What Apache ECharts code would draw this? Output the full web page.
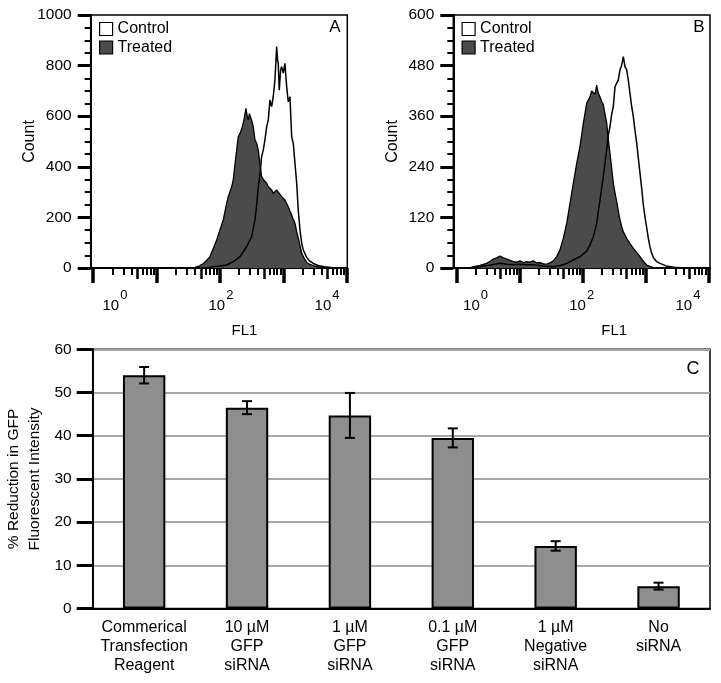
<!DOCTYPE html>
<html><head><meta charset="utf-8">
<script src="https://cdn.jsdelivr.net/npm/echarts@6/dist/echarts.min.js"></script>
<style>html,body{margin:0;padding:0;background:#fff}#c{width:721px;height:683px}</style>
</head><body><div id="c"></div>
<script>
// ---------- Panel A (log10 FL1, count) ----------
const aTreatedLog = [1.0,1.55,1.605,1.66,1.737,1.79,1.842,1.9,1.948,2.0,2.052,2.106,2.131,2.158,2.184,2.21,2.237,2.264,2.289,2.316,2.342,2.368,2.39,2.41,2.43,2.447,2.465,2.485,2.505,2.526,2.553,2.579,2.605,2.632,2.658,2.684,2.71,2.737,2.763,2.789,2.816,2.842,2.868,2.895,2.921,2.947,2.974,3.0,3.026,3.053,3.078,3.105,3.132,3.158,3.184,3.21,3.237,3.263,3.29,3.33,3.369,3.42,3.473,3.578,3.7,3.85,4.01];
const aTreatedCount = [0,0,2,6,18,30,45,80,111,150,190,256,282,289,320,348,410,466,519,532,548,572,600,631,600,585,610,605,580,558,506,493,466,410,361,350,354,335,321,328,308,295,302,308,300,295,282,275,269,255,242,225,209,192,177,145,118,88,58,38,22,14,9,3,1,0,0];
const aControlLog = [1.0,1.8,1.894,2.0,2.106,2.21,2.316,2.421,2.5,2.553,2.58,2.605,2.632,2.658,2.684,2.71,2.737,2.763,2.789,2.816,2.841,2.868,2.895,2.91,2.92,2.936,2.958,2.974,3.0,3.026,3.04,3.053,3.078,3.105,3.132,3.157,3.184,3.211,3.236,3.263,3.29,3.315,3.369,3.42,3.473,3.55,3.65,3.78,3.9,4.01];
const aControlCount = [0,0,5,8,12,25,45,84,124,190,250,321,370,440,466,506,558,585,664,638,677,743,875,820,809,703,783,796,770,809,760,717,657,677,519,493,414,335,229,150,98,71,42,27,18,10,5,1,0,0];
// ---------- Panel B ----------
const bTreatedLog = [0.2,0.264,0.37,0.477,0.53,0.582,0.635,0.688,0.74,0.795,0.85,0.9,0.95,1.006,1.06,1.113,1.165,1.218,1.27,1.324,1.38,1.431,1.48,1.536,1.59,1.642,1.695,1.749,1.801,1.854,1.908,1.96,2.013,2.067,2.119,2.145,2.172,2.2,2.226,2.25,2.278,2.305,2.331,2.358,2.385,2.41,2.437,2.464,2.49,2.517,2.544,2.57,2.596,2.623,2.649,2.676,2.703,2.755,2.808,2.86,2.914,2.967,3.021,3.126,3.25];
const bTreatedCount = [0,3,6,11,16,21,24,28,24,21,18,15,14,17,13,15,14,17,12,13,10,9,12,17,27,43,70,106,153,201,248,288,343,391,406,420,422,412,434,415,406,395,387,365,343,305,272,236,201,178,157,135,114,98,86,78,70,58,47,37,27,16,7,1,0];
const bControlLog = [0.2,0.35,0.5,0.6,0.7,0.8,0.9,1.0,1.1,1.2,1.3,1.4,1.536,1.65,1.749,1.854,1.96,2.067,2.12,2.172,2.2,2.226,2.252,2.278,2.305,2.331,2.358,2.385,2.41,2.437,2.464,2.49,2.517,2.544,2.569,2.596,2.623,2.649,2.676,2.703,2.728,2.755,2.78,2.808,2.835,2.862,2.888,2.914,2.94,2.967,2.994,3.021,3.047,3.073,3.1,3.126,3.18,3.232,3.33,3.45,3.6];
const bControlCount = [0,3,6,9,11,9,8,9,8,8,6,4,3,6,11,19,27,40,55,74,90,106,135,161,190,217,250,280,315,335,365,383,430,430,446,470,481,501,477,470,446,414,385,359,325,296,260,225,190,150,120,95,70,50,35,25,15,11,5,2,0];
// ---------- Panel C ----------
const cCategories = ['Commerical\nTransfection\nReagent','10 µM\nGFP\nsiRNA','1 µM\nGFP\nsiRNA','0.1 µM\nGFP\nsiRNA','1 µM\nNegative\nsiRNA','No\nsiRNA'];
const cValues = [54.0,46.5,44.7,39.5,14.5,5.2];
const cErrors = [1.9,1.5,5.2,2.2,1.1,0.8];
// ---------- tick labels ----------
const histMajorTicks = [0,1,2,3,4];
const histLabelTicks = [0,2,4];
const histMinorMult = [2,3,4,6,7,8,9];

const FONT = "'Liberation Sans', Arial, Helvetica, sans-serif";
const zip = (xs, ys) => xs.map((x, i) => [x, ys[i]]);
const minorTicks = [0,1,2,3].flatMap(d => histMinorMult.map(m => d + Math.log10(m)));
const midTicks = [0,1,2,3].map(d => d + Math.log10(5));

function histXAxes(g, min, max, lmin, lmax, namePad) {
  const base = {type:'value', gridIndex:g, min:min, max:max, position:'bottom', splitLine:{show:false}, axisLabel:{show:false}};
  return [
    Object.assign({}, base, {axisLine:{show:true,onZero:false,lineStyle:{color:'#000',width:2}},
      axisTick:{show:true,customValues:histMajorTicks,length:15,lineStyle:{color:'#000',width:3.5}}}),
    Object.assign({}, base, {axisLine:{show:false,onZero:false},
      axisTick:{show:true,customValues:minorTicks,length:7,lineStyle:{color:'#000',width:2}}}),
    Object.assign({}, base, {axisLine:{show:false,onZero:false},
      axisTick:{show:true,customValues:midTicks,length:11,lineStyle:{color:'#000',width:2.5}}}),
    {type:'value', gridIndex:g, min:lmin, max:lmax, position:'bottom', splitLine:{show:false},
      axisLine:{show:false,onZero:false}, axisTick:{show:false},
      axisLabel:{show:true, customValues:histLabelTicks, margin:30,
        formatter: v => '{b|10}{s|' + Math.round(v) + '}',
        rich:{b:{fontSize:15,lineHeight:15,verticalAlign:'bottom',fontFamily:FONT,color:'#000'},
              s:{fontSize:13,lineHeight:13,padding:[0,0,11.5,1],verticalAlign:'bottom',fontFamily:FONT,color:'#000'}}},
      name:'FL1', nameLocation:'middle', nameGap:55, nameMoveOverlap:false,
      nameTextStyle:{fontSize:15,fontFamily:FONT,color:'#000',padding:[0,0,0,namePad]}}
  ];
}
function histYAxis(g, max, interval) {
  return {type:'value', gridIndex:g, min:0, max:max, interval:interval,
    axisLine:{show:true,onZero:false,lineStyle:{color:'#000',width:2}},
    axisTick:{show:true,length:13,lineStyle:{color:'#000',width:3}},
    minorTick:{show:true,splitNumber:4,length:6,lineStyle:{color:'#000',width:2}},
    axisLabel:{color:'#000',fontSize:15.5,fontFamily:FONT,margin:19,formatter: v => String(v)},
    splitLine:{show:false},
    name:'Count', nameLocation:'middle', nameGap:53, nameMoveOverlap:false,
    nameTextStyle:{fontSize:16,fontFamily:FONT,color:'#000'}};
}
function histSeries(xi, yi, tLog, tCnt, cLog, cCnt) {
  return [
    {name:'Treated', type:'line', xAxisIndex:xi, yAxisIndex:yi, data:zip(tLog,tCnt), showSymbol:false, symbol:'none',
      itemStyle:{color:'#4b4b4b'}, lineStyle:{color:'#000',width:1.3}, areaStyle:{color:'#4b4b4b',opacity:1}, z:2, silent:true},
    {name:'Control', type:'line', xAxisIndex:xi, yAxisIndex:yi, data:zip(cLog,cCnt), showSymbol:false, symbol:'none',
      itemStyle:{color:'#fff'}, lineStyle:{color:'#000',width:1.5}, z:3, silent:true}
  ];
}
function legendFor(left) {
  return {left:left, top:21, orient:'vertical', padding:0, itemGap:2.5, itemWidth:13, itemHeight:13, icon:'rect',
    selectedMode:false, textStyle:{fontSize:16,color:'#000',fontFamily:FONT,lineHeight:16},
    data:[{name:'Control',itemStyle:{color:'#fff',borderColor:'#000',borderWidth:1.2}},
          {name:'Treated',itemStyle:{color:'#4b4b4b',borderColor:'#000',borderWidth:1.2}}]};
}

const gridStyle = {show:true, borderColor:'#000', borderWidth:1.5, backgroundColor:'transparent', containLabel:false, outerBoundsMode:'none'};

const option = {
  animation:false,
  backgroundColor:'#fff',
  textStyle:{fontFamily:FONT},
  grid:[
    Object.assign({left:90.7, top:15, width:256.6, height:253}, gridStyle),
    Object.assign({left:453.3, top:15, width:256.7, height:253}, gridStyle),
    Object.assign({left:92.7, top:349.3, width:617.3, height:259.3}, gridStyle)
  ],
  legend:[legendFor(99), legendFor(461.5)],
  xAxis: [].concat(
    histXAxes(0, -0.04, 4.01, -0.458, 4.383, 51),
    histXAxes(1, -0.054, 4.027, -0.418, 4.416, 65),
    [{type:'category', gridIndex:2, data:cCategories,
      axisLine:{show:true,onZero:false,lineStyle:{color:'#000',width:2}}, axisTick:{show:false},
      axisLabel:{interval:0,color:'#000',fontSize:16,lineHeight:19.3,margin:9,fontFamily:FONT}, splitLine:{show:false}}]
  ),
  yAxis:[
    histYAxis(0, 1000, 200),
    histYAxis(1, 600, 120),
    {type:'value', gridIndex:2, min:0, max:60, interval:10,
      axisLine:{show:true,onZero:false,lineStyle:{color:'#000',width:2}},
      axisTick:{show:true,length:16,lineStyle:{color:'#000',width:3}},
      axisLabel:{color:'#000',fontSize:15.5,fontFamily:FONT,margin:21},
      splitLine:{show:true,lineStyle:{color:'#a8a8a8',width:2}},
      name:'% Reduction in GFP\nFluorescent Intensity', nameLocation:'middle', nameGap:47, nameMoveOverlap:false,
      nameTextStyle:{fontSize:15.5,lineHeight:21,fontFamily:FONT,color:'#000',align:'center'}}
  ],
  series: [].concat(
    histSeries(0, 0, aTreatedLog, aTreatedCount, aControlLog, aControlCount),
    histSeries(4, 1, bTreatedLog, bTreatedCount, bControlLog, bControlCount),
    [{type:'bar', xAxisIndex:8, yAxisIndex:2, data:cValues, barWidth:42.4, silent:true,
      itemStyle:{color:'#8e8e8e',borderColor:'#000',borderWidth:2}, z:2},
     {type:'custom', xAxisIndex:8, yAxisIndex:2, silent:true, z:4,
      data: cValues.map((v,i)=>[i, v - cErrors[i], v + cErrors[i]]),
      renderItem: function(params, api){
        const x = api.value(0);
        const lo = api.coord([x, api.value(1)]);
        const hi = api.coord([x, api.value(2)]);
        const hw = 5;
        const st = {stroke:'#000', lineWidth:2};
        return {type:'group', children:[
          {type:'line', shape:{x1:hi[0],y1:hi[1],x2:lo[0],y2:lo[1]}, style:st},
          {type:'line', shape:{x1:hi[0]-hw,y1:hi[1],x2:hi[0]+hw,y2:hi[1]}, style:st},
          {type:'line', shape:{x1:lo[0]-hw,y1:lo[1],x2:lo[0]+hw,y2:lo[1]}, style:st}
        ]};
      }}]
  ),
  graphic:[
    {type:'text', x:335, y:27.5, style:{text:'A', fontSize:17, fontFamily:FONT, fill:'#000', align:'center', verticalAlign:'middle', textAlign:'center', textVerticalAlign:'middle'}},
    {type:'text', x:699, y:27.5, style:{text:'B', fontSize:17, fontFamily:FONT, fill:'#000', align:'center', verticalAlign:'middle', textAlign:'center', textVerticalAlign:'middle'}},
    {type:'text', x:693, y:369, style:{text:'C', fontSize:18, fontFamily:FONT, fill:'#000', align:'center', verticalAlign:'middle', textAlign:'center', textVerticalAlign:'middle'}}
  ]
};
const chart = echarts.init(document.getElementById('c'), null, {renderer:'canvas'});
chart.setOption(option);
</script></body></html>
